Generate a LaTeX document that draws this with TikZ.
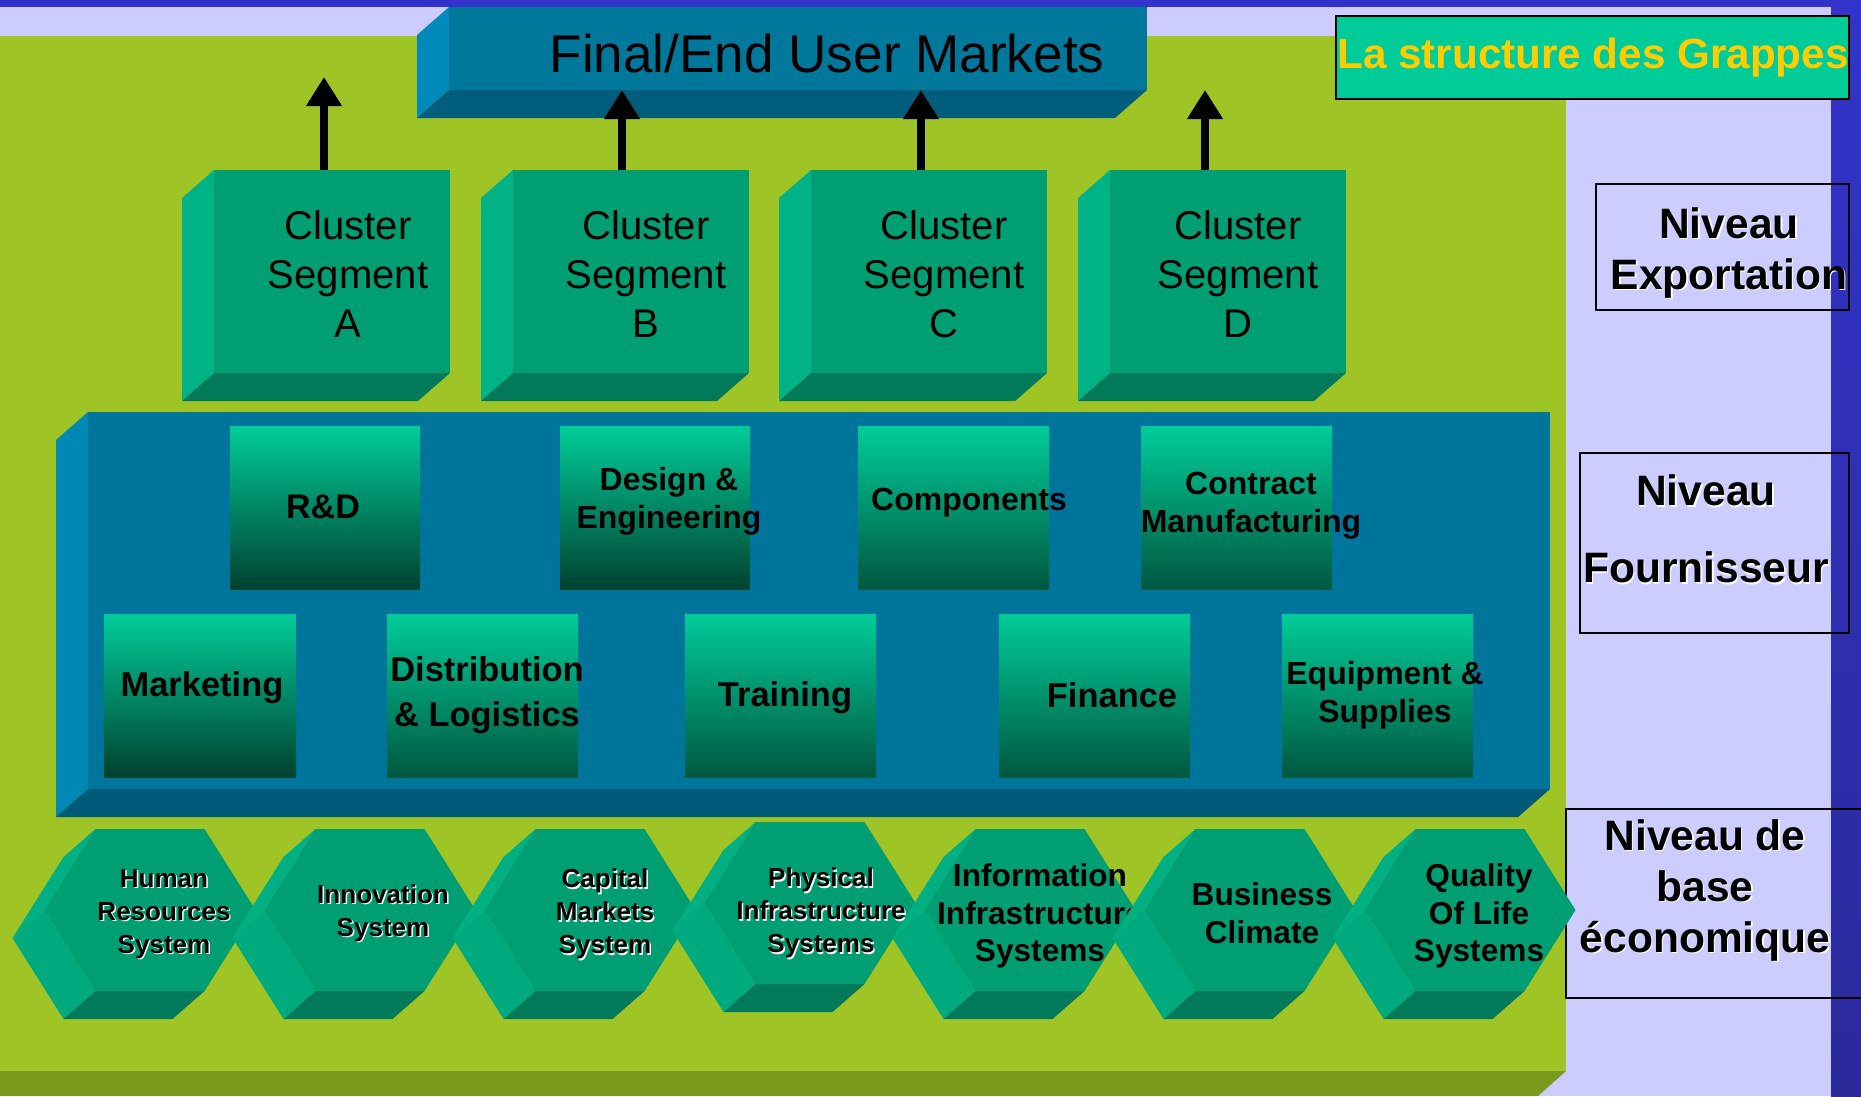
\documentclass[tikz,border=0pt]{standalone}
\usepackage{fontspec}
\setmainfont{Liberation Sans}
\usetikzlibrary{arrows.meta}

\definecolor{lav}{RGB}{204,204,255}
\definecolor{navy}{RGB}{51,51,204}
\definecolor{navydark}{RGB}{42,42,155}
\definecolor{grass}{RGB}{159,196,37}
\definecolor{olive}{RGB}{122,154,30}
\definecolor{mint}{RGB}{0,204,153}
\definecolor{gold}{RGB}{255,204,0}
\definecolor{mktfront}{RGB}{0,120,155}
\definecolor{mktside}{RGB}{0,137,187}
\definecolor{mktbot}{RGB}{0,93,123}
\definecolor{supfront}{RGB}{0,117,155}
\definecolor{supside}{RGB}{0,136,180}
\definecolor{supbot}{RGB}{0,90,122}
\definecolor{segfront}{RGB}{0,158,115}
\definecolor{segside}{RGB}{0,179,134}
\definecolor{segbot}{RGB}{0,122,90}
\definecolor{hexup}{RGB}{0,176,130}
\definecolor{hexlow}{RGB}{0,170,127}
\definecolor{gradmid}{RGB}{0,158,116}
\definecolor{graddark}{RGB}{0,66,48}
\definecolor{gradlight}{RGB}{0,88,64}

\tikzset{
  lbl/.style={inner sep=0pt, align=center, text=black},
  finaltxt/.style={lbl, font=\fontsize{15.1}{18}\selectfont},
  segtxt/.style={lbl, font=\fontsize{11.4}{13.9}\selectfont},
  suptxt/.style={lbl, font=\fontsize{9.1}{10.8}\selectfont\bfseries},
  suptxtb/.style={lbl, font=\fontsize{9.8}{12.8}\selectfont\bfseries},
  hextxt/.style={lbl, font=\fontsize{7.4}{9.4}\selectfont\bfseries},
  hextxtb/.style={lbl, font=\fontsize{9}{10.7}\selectfont\bfseries},
  lvltxt/.style={lbl, font=\fontsize{12.1}{14.5}\selectfont\bfseries},
  lvlbox/.style={draw=black, line width=0.6pt},
  uparrow/.style={line width=0.8mm, -{Triangle[width=3.4mm,length=2.9mm]}},
  grad/.style={top color=mint, middle color=gradmid, bottom color=#1},
  grad/.default=gradlight,
}

% front face (x1,y1)-(x2,y2), faces pushed down-left
\def\block(#1,#2)(#3,#4)#5{%
  \fill[#5side] (#1,#2) -- (#1-32,#2+28) -- (#1-32,#4+28) -- (#1,#4) -- cycle;
  \fill[#5bot] (#1,#4) -- (#3,#4) -- (#3-32,#4+28) -- (#1-32,#4+28) -- cycle;
  \fill[#5front] (#1,#2) rectangle (#3,#4);}

\def\hexa(#1,#2){%
  \begin{scope}[shift={(#1,#2)}]
    \fill[hexup] (-54.5,-81) -- (-105.5,0) -- (-137.5,28) -- (-86.5,-53) -- cycle;
    \fill[hexlow] (-105.5,0) -- (-54.5,81) -- (-86.5,109) -- (-137.5,28) -- cycle;
    \fill[segbot] (-54.5,81) -- (54.5,81) -- (22.5,109) -- (-86.5,109) -- cycle;
    \fill[segfront] (-54.5,-81) -- (54.5,-81) -- (105.5,0) -- (54.5,81) -- (-54.5,81) -- (-105.5,0) -- cycle;
  \end{scope}}

% text with a white shadow
\newcommand\shtext[4]{%
  \node[#3,text=white,xshift=0.14mm,yshift=-0.14mm] at (#2) {#4};
  \node[#3] (#1) at (#2) {#4};}

\begin{document}
\begin{tikzpicture}[x=0.01cm,y=-0.01cm]
  %%%%% START %%%%%
  \useasboundingbox (0,0) rectangle (1861,1096);
  \fill[lav] (0,0) rectangle (1861,1096);
  \fill[navy] (0,0) rectangle (1861,7);
  \fill[grass] (0,36) rectangle (1566,1071);
  \fill[olive] (0,1071) -- (1566,1071) -- (1538,1096) -- (0,1096) -- cycle;
  \shade[top color=navy, bottom color=navydark] (1831,0) rectangle (1861,1096);

  % title and levels
  \fill[mint] (1336,16) rectangle (1849,99);
  \draw[lvlbox] (1336,16) rectangle (1849,99);
  \node[lbl, text=gold, font=\fontsize{12}{14}\selectfont\bfseries] (title) at (1593,58) {La structure des Grappes};

  \draw[lvlbox] (1596,184) rectangle (1849,310);
  \shtext{exp}{1729,253}{lvltxt}{Niveau\\Exportation}
  \draw[lvlbox] (1580,453) rectangle (1849,633);
  \shtext{four}{1706,529}{lvltxt, font=\fontsize{12.1}{21.9}\selectfont\bfseries}{Niveau\\Fournisseur}
  \draw[lvlbox] (1566,809) rectangle (1866,998);
  \shtext{base}{1705,890}{lvltxt}{Niveau de\\base\\économique}

  % final markets
  \block(449,7)(1147,90){mkt}
  \node[finaltxt] (final) at (827,54) {Final/End User Markets};
  \coordinate (finalbase) at (798,90);

  % cluster segments
  \block(214,170)(450,373){seg}
  \block(513,170)(749,373){seg}
  \block(811,170)(1047,373){seg}
  \block(1110,170)(1346,373){seg}
  \node[segtxt] (segA) at (348,274) {Cluster\\Segment\\A};
  \node[segtxt] (segB) at (646,274) {Cluster\\Segment\\B};
  \node[segtxt] (segC) at (944,274) {Cluster\\Segment\\C};
  \node[segtxt] (segD) at (1238,274) {Cluster\\Segment\\D};

  \coordinate (topA) at (324,170);
  \coordinate (topB) at (622,170);
  \coordinate (topC) at (921,170);
  \coordinate (topD) at (1205,170);
  \coordinate (tipA) at (324,77);
  \draw[uparrow] (topA) -- (tipA);
  \draw[uparrow] (topB) -- (topB |- finalbase);
  \draw[uparrow] (topC) -- (topC |- finalbase);
  \draw[uparrow] (topD) -- (topD |- finalbase);

  % supplier level
  \block(88,412)(1550,789){sup}
  \shade[grad=graddark] (230,426) rectangle (420,589);
  \shade[grad=graddark] (560,426) rectangle (750,589);
  \shade[grad] (858,426) rectangle (1049,589);
  \shade[grad] (1141,426) rectangle (1332,589);
  \shade[grad=graddark] (104,614) rectangle (296,777);
  \shade[grad] (387,614) rectangle (578,777);
  \shade[grad] (685,614) rectangle (876,777);
  \shade[grad] (999,614) rectangle (1190,777);
  \shade[grad] (1282,614) rectangle (1473,777);

  \node[suptxtb, font=\fontsize{9.7}{12}\selectfont\bfseries] (rd) at (323,507) {R\&D};
  \node[suptxt] (design) at (669,501) {Design \&\\Engineering};
  \node[suptxt] (comp) at (969,503) {Components};
  \node[suptxt] (contract) at (1251,506) {Contract\\Manufacturing};
  \node[suptxtb] (mark) at (202,688) {Marketing};
  \node[suptxtb] (distrib) at (487,695) {Distribution\\\& Logistics};
  \node[suptxtb] (train) at (785,698) {Training};
  \node[suptxtb] (fin) at (1112,695) {Finance};
  \node[suptxt] (equip) at (1385,695) {Equipment \&\\Supplies};

  % economic base
  \hexa(150,910)
  \shtext{hr}{164,914}{hextxt}{Human\\Resources\\System}
  \hexa(370,910)
  \shtext{innov}{383,913}{hextxt}{Innovation\\System}
  \hexa(590,910)
  \shtext{capital}{605,914}{hextxt}{Capital\\Markets\\System}
  \hexa(810,903)
  \shtext{phys}{821,913}{hextxt}{Physical\\Infrastructure\\Systems}
  \hexa(1030,910)
  \node[hextxtb] (info) at (1040,916) {Information\\Infrastructure\\Systems};
  \hexa(1250,910)
  \node[hextxtb] (climate) at (1262,913) {Business\\Climate};
  \hexa(1470,910)
  \node[hextxtb] (life) at (1479,916) {Quality\\Of Life\\Systems};
  %%%%% END %%%%%
\end{tikzpicture}
\end{document}
